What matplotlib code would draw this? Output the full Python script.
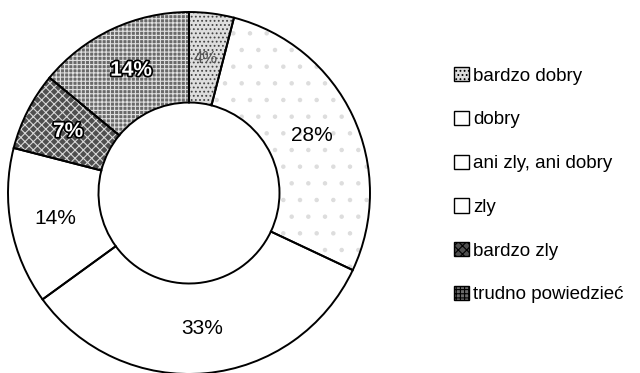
import matplotlib.pyplot as plt
import matplotlib.patheffects as pe
from matplotlib.patches import Rectangle

# survey answers, clockwise from 12 o'clock
categories = ['bardzo dobry', 'dobry', 'ani zly, ani dobry', 'zly', 'bardzo zly', 'trudno powiedzieć']
shares = [4, 28, 33, 14, 7, 14]

# fill texture per slice: face colour, hatch, hatch colour
faces = ['#dedede', '#ffffff', '#ffffff', '#ffffff', '#4f4f4f', '#6a6a6a']
hatches = ['....', '.', '', '', 'xxxx', '++++']
hatch_cols = ['#444444', '#dddddd', '#ffffff', '#ffffff', '#d8d8d8', '#e0e0e0']
# the legend boxes only show texture for the shaded answers
legend_hatches = ['....', '', '', '', 'xxxx', '++++']

plt.rcParams['font.family'] = ['Liberation Sans', 'DejaVu Sans']
plt.rcParams['hatch.linewidth'] = 0.8

fig = plt.figure(figsize=(6.4, 3.73), dpi=100)
ax = fig.add_axes([0.0125, -0.0027, 0.5656, 0.9705])

# textured fill first, then black outlines on top
wedges, texts, autotexts = ax.pie(
    shares, startangle=90, counterclock=False, radius=1.0,
    autopct='%.0f%%', pctdistance=0.75,
    wedgeprops=dict(width=0.5, linewidth=0),
    textprops=dict(fontsize=15))
for w, fc, h, hc in zip(wedges, faces, hatches, hatch_cols):
    w.set_facecolor(fc)
    w.set_hatch(h)
    w.set_edgecolor(hc)

ax.pie(shares, startangle=90, counterclock=False, radius=1.0,
       wedgeprops=dict(width=0.5, fill=False, edgecolor='black', linewidth=1.4))

for i, t in enumerate(autotexts):
    if faces[i] in ('#4f4f4f', '#6a6a6a'):
        t.set_color('white')
        t.set_fontweight('bold')
        t.set_path_effects([pe.withStroke(linewidth=2.5, foreground='black')])
    elif i == 0:
        t.set_fontsize(12)
        t.set_color('#555555')

ax.set_xlim(-1, 1)
ax.set_ylim(-1, 1)
ax.axis('off')

handles = [Rectangle((0, 0), 1, 1, facecolor=fc, hatch=h, edgecolor='black', linewidth=1.0)
           for fc, h in zip(faces, legend_hatches)]
fig.legend(handles, categories, loc='upper left', bbox_to_anchor=(454 / 640, 1 - 67 / 373),
           frameon=False, fontsize=13.5, handlelength=0.8, handleheight=0.8,
           handletextpad=0.2, labelspacing=1.39, borderpad=0, borderaxespad=0)

fig.savefig('out.png', dpi=100)
